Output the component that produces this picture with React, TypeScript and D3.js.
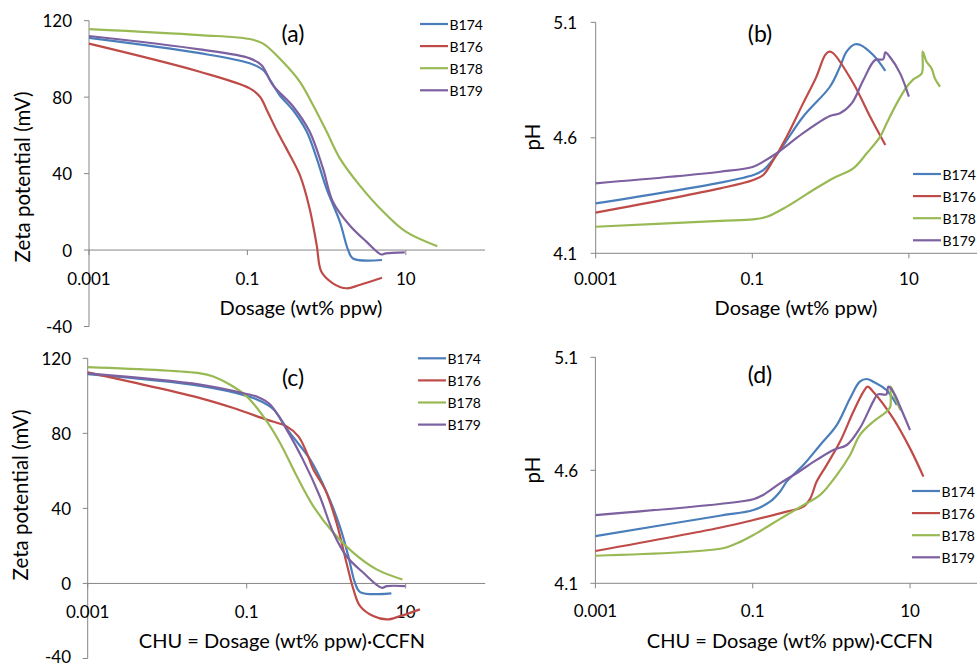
import * as d3 from "d3";

const SERIES = ["B174", "B176", "B178", "B179"];
const COLORS = ["#4a7ebb", "#be4b48", "#98b954", "#7d60a0"];
const X_TICKS = [0.001, 0.1, 10];
const ZETA_TICKS = [-40, 0, 40, 80, 120];
const PH_TICKS = [4.1, 4.6, 5.1];

// (a) zeta potential vs dosage
const zetaDoseB174 = [[0.001, 111], [0.025, 103], [0.107, 97.7], [0.158, 94.2], [0.2, 88], [0.256, 81], [0.38, 73], [0.56, 62], [0.75, 48], [1.0, 32], [1.47, 14.8], [1.87, 0], [2.15, -4.4], [5.0, -5.2]];
const zetaDoseB176 = [[0.001, 108], [0.025, 93.3], [0.107, 84.6], [0.144, 80.2], [0.18, 72.4], [0.233, 62.8], [0.31, 53.2], [0.46, 39.2], [0.61, 21.8], [0.75, 2.6], [0.86, -11.4], [1.2, -17.4], [1.78, -20], [2.6, -18.3], [5.0, -14.5]];
const zetaDoseB178 = [[0.001, 115.6], [0.025, 112.5], [0.107, 110.4], [0.158, 108], [0.28, 98.5], [0.46, 88], [0.67, 76], [1.0, 62], [1.47, 48], [2.6, 34], [5.2, 20], [10, 9.6], [25, 2]];
const zetaDoseB179 = [[0.001, 112], [0.025, 105], [0.107, 100.3], [0.15, 96.8], [0.21, 86.3], [0.38, 75], [0.61, 62], [0.9, 42.7], [1.2, 25.3], [1.95, 13], [3.2, 4.3], [4.9, -2.3], [5.6, -1.7], [9.7, -1.2]];

// (b) pH vs dosage
const phDoseB174 = [[0.001, 4.316], [0.039, 4.406], [0.103, 4.439], [0.138, 4.46], [0.205, 4.526], [0.445, 4.691], [0.98, 4.821], [1.32, 4.908], [1.6, 4.973], [2.05, 5.005], [2.4, 5.002], [3.5, 4.958], [5.0, 4.89]];
const phDoseB176 = [[0.001, 4.276], [0.039, 4.381], [0.103, 4.417], [0.138, 4.439], [0.186, 4.504], [0.275, 4.605], [0.445, 4.749], [0.66, 4.865], [0.85, 4.958], [0.96, 4.973], [1.08, 4.966], [1.95, 4.836], [3.2, 4.691], [5.0, 4.569]];
const phDoseB178 = [[0.001, 4.215], [0.039, 4.24], [0.103, 4.247], [0.153, 4.258], [0.275, 4.302], [0.6, 4.374], [1.08, 4.425], [1.95, 4.468], [2.9, 4.533], [4.3, 4.605], [5.2, 4.663], [7.0, 4.749], [9.4, 4.821], [11.4, 4.853], [14.6, 4.879], [15, 4.973], [16.8, 4.929], [19.5, 4.9], [21.5, 4.857], [25, 4.821]];
const phDoseB179 = [[0.001, 4.403], [0.039, 4.453], [0.103, 4.475], [0.138, 4.497], [0.205, 4.533], [0.445, 4.62], [0.98, 4.694], [1.32, 4.706], [1.86, 4.749], [2.62, 4.85], [3.7, 4.937], [4.7, 4.94], [5.0, 4.97], [5.7, 4.951], [7.7, 4.88], [10, 4.778]];

// (c) zeta potential vs CHU
const zetaChuB174 = [[0.001, 111.5], [0.026, 105.3], [0.1, 100], [0.148, 97.3], [0.215, 93], [0.35, 80.2], [0.63, 66], [1.02, 48.3], [1.48, 30.5], [1.9, 14.5], [2.3, 0.4], [2.67, -4.6], [6.6, -5.3]];
const zetaChuB176 = [[0.001, 112.5], [0.026, 98.8], [0.068, 93.5], [0.178, 87.3], [0.318, 83.7], [0.447, 78.4], [0.57, 69.6], [0.69, 60.7], [0.97, 50], [1.35, 32.3], [1.8, 11], [2.2, -3.2], [2.67, -12.1], [3.9, -17.4], [5.8, -19.2], [8.5, -17.4], [15.1, -13.8]];
const zetaChuB178 = [[0.001, 115.3], [0.026, 112], [0.038, 110.3], [0.062, 105.9], [0.1, 99.7], [0.162, 89], [0.263, 74.9], [0.427, 57.1], [0.69, 41.1], [1.23, 27], [2.2, 16.3], [4.3, 7.5], [9.1, 2.1]];
const zetaChuB179 = [[0.001, 112], [0.026, 106], [0.1, 101], [0.14, 99.3], [0.196, 95.5], [0.318, 82], [0.51, 66], [0.83, 46.5], [1.23, 27], [1.8, 14.5], [2.93, 5.7], [5.0, -2.3], [5.8, -1.4], [9.8, -1.4]];

// (d) pH vs CHU
const phChuB174 = [[0.001, 4.309], [0.038, 4.399], [0.102, 4.424], [0.166, 4.461], [0.222, 4.505], [0.27, 4.55], [0.44, 4.623], [0.72, 4.712], [1.17, 4.8], [1.73, 4.919], [2.3, 4.992], [2.82, 5.004], [3.4, 4.992], [5.0, 4.955], [6.8, 4.889]];
const phChuB176 = [[0.001, 4.243], [0.038, 4.346], [0.102, 4.38], [0.27, 4.417], [0.44, 4.439], [0.54, 4.476], [0.65, 4.55], [0.87, 4.623], [1.29, 4.727], [1.9, 4.859], [2.56, 4.948], [2.88, 4.97], [3.4, 4.948], [6.1, 4.83], [10, 4.697], [14.8, 4.572]];
const phChuB178 = [[0.001, 4.222], [0.042, 4.255], [0.063, 4.277], [0.102, 4.314], [0.166, 4.358], [0.27, 4.402], [0.44, 4.446], [0.72, 4.491], [1.17, 4.579], [1.73, 4.668], [2.3, 4.756], [3.4, 4.815], [5.0, 4.859], [5.6, 4.881], [5.7, 4.97], [6.5, 4.919], [7.6, 4.865]];
const phChuB179 = [[0.001, 4.402], [0.038, 4.451], [0.102, 4.472], [0.136, 4.491], [0.222, 4.542], [0.36, 4.587], [0.65, 4.646], [1.06, 4.69], [1.57, 4.712], [2.3, 4.786], [3.4, 4.904], [3.9, 4.936], [5.0, 4.936], [5.3, 4.97], [6.1, 4.948], [7.8, 4.867], [10, 4.778]];

const FONT = "Lato, 'Liberation Sans', sans-serif";
const H = 665;

const panels = [
  {
    tag: "(a)", data: [zetaDoseB174, zetaDoseB176, zetaDoseB178, zetaDoseB179],
    xr: [89, 485], yd: [-40, 120], yr: [326.5, 20.7], cross: 0, yTicks: ZETA_TICKS, fmt: (v) => String(v),
    yLabX: 72, xLabDy: 28, yTitle: "Zeta potential  (mV)", yTitleX: 22, yTitleY: 177,
    xTitle: "Dosage (wt% ppw)", xTitleX: 301, xTitleY: 307, tagX: 293, tagY: 33, legX: 420, legY: 24,
  },
  {
    tag: "(b)", data: [phDoseB174, phDoseB176, phDoseB178, phDoseB179],
    xr: [595.7, 987.2], yd: [4.1, 5.1], yr: [253.3, 22.3], cross: 4.1, yTicks: PH_TICKS, fmt: (v) => v.toFixed(1),
    yLabX: 577, xLabDy: 25, yTitle: "pH", yTitleX: 532, yTitleY: 137,
    xTitle: "Dosage (wt% ppw)", xTitleX: 796, xTitleY: 307, tagX: 760, tagY: 33, legX: 913, legY: 174,
  },
  {
    tag: "(c)", data: [zetaChuB174, zetaChuB176, zetaChuB178, zetaChuB179],
    xr: [87.7, 485.2], yd: [-40, 120], yr: [658.5, 358.3], cross: 0, yTicks: ZETA_TICKS, fmt: (v) => String(v),
    yLabX: 71, xLabDy: 28, yTitle: "Zeta potential (mV)", yTitleX: 20, yTitleY: 495,
    xTitle: "CHU = Dosage (wt% ppw)\u00b7CCFN", xTitleX: 282, xTitleY: 640, tagX: 293, tagY: 377, legX: 418, legY: 358.3,
  },
  {
    tag: "(d)", data: [phChuB174, phChuB176, phChuB178, phChuB179],
    xr: [595.4, 988.7], yd: [4.1, 5.1], yr: [583.3, 357.3], cross: 4.1, yTicks: PH_TICKS, fmt: (v) => v.toFixed(1),
    yLabX: 578, xLabDy: 27, yTitle: "pH", yTitleX: 532, yTitleY: 470,
    xTitle: "CHU = Dosage (wt% ppw)\u00b7CCFN", xTitleX: 790, xTitleY: 640, tagX: 760, tagY: 374, legX: 912, legY: 491,
  },
];

function Panel({ p }) {
  const x = d3.scaleLog().domain([0.001, 100]).range(p.xr);
  const y = d3.scaleLinear().domain(p.yd).range(p.yr);
  // Excel-style smoothed lines
  const line = d3
    .line<number[]>()
    .x((d) => x(d[0]))
    .y((d) => y(d[1]))
    .curve(d3.curveCatmullRom.alpha(0.5));
  const ax = y(p.cross);
  const x0 = p.xr[0];
  return (
    <g fontFamily={FONT} fill="#000">
      {/* axes */}
      <line x1={x0} x2={x0} y1={p.yr[1]} y2={p.yr[0]} stroke="#868686" />
      <line x1={x0} x2={p.xr[1]} y1={ax} y2={ax} stroke="#868686" />
      {p.yTicks.map((t) => (
        <g key={t}>
          <line x1={x0 - 5} x2={x0} y1={y(t)} y2={y(t)} stroke="#868686" />
          <text x={p.yLabX} y={Math.min(y(t), H - 9)} textAnchor="end" dominantBaseline="central" fontSize={17}>
            {p.fmt(t)}
          </text>
        </g>
      ))}
      {X_TICKS.map((t) => (
        <g key={t}>
          <line x1={x(t)} x2={x(t)} y1={ax} y2={ax + 5} stroke="#868686" />
          <text x={x(t)} y={ax + p.xLabDy} textAnchor="middle" dominantBaseline="central" fontSize={17}>
            {t}
          </text>
        </g>
      ))}
      {/* series */}
      {p.data.map((d, i) => (
        <path key={i} d={line(d) ?? ""} fill="none" stroke={COLORS[i]} strokeWidth={2.2} strokeLinejoin="round" />
      ))}
      {/* titles */}
      <text x={p.xTitleX} y={p.xTitleY} textAnchor="middle" dominantBaseline="central" fontSize={20}>
        {p.xTitle}
      </text>
      <text
        transform={`translate(${p.yTitleX},${p.yTitleY}) rotate(-90)`}
        textAnchor="middle"
        dominantBaseline="central"
        fontSize={20.5}
      >
        {p.yTitle}
      </text>
      <text x={p.tagX} y={p.tagY} textAnchor="middle" dominantBaseline="central" fontSize={23}>
        {p.tag}
      </text>
      {/* legend */}
      {SERIES.map((s, i) => (
        <g key={s}>
          <line x1={p.legX} x2={p.legX + 28} y1={p.legY + i * 22.1} y2={p.legY + i * 22.1} stroke={COLORS[i]} strokeWidth={2.2} />
          <text x={p.legX + 29.5} y={p.legY + i * 22.1} dominantBaseline="central" fontSize={14}>
            {s}
          </text>
        </g>
      ))}
    </g>
  );
}

export default function App() {
  return (
    <>
      <style>{`body{margin:0}`}</style>
      <svg width={977} height={H} style={{ display: "block", background: "#fff" }}>
        {panels.map((p) => (
          <Panel key={p.tag} p={p} />
        ))}
      </svg>
    </>
  );
}
